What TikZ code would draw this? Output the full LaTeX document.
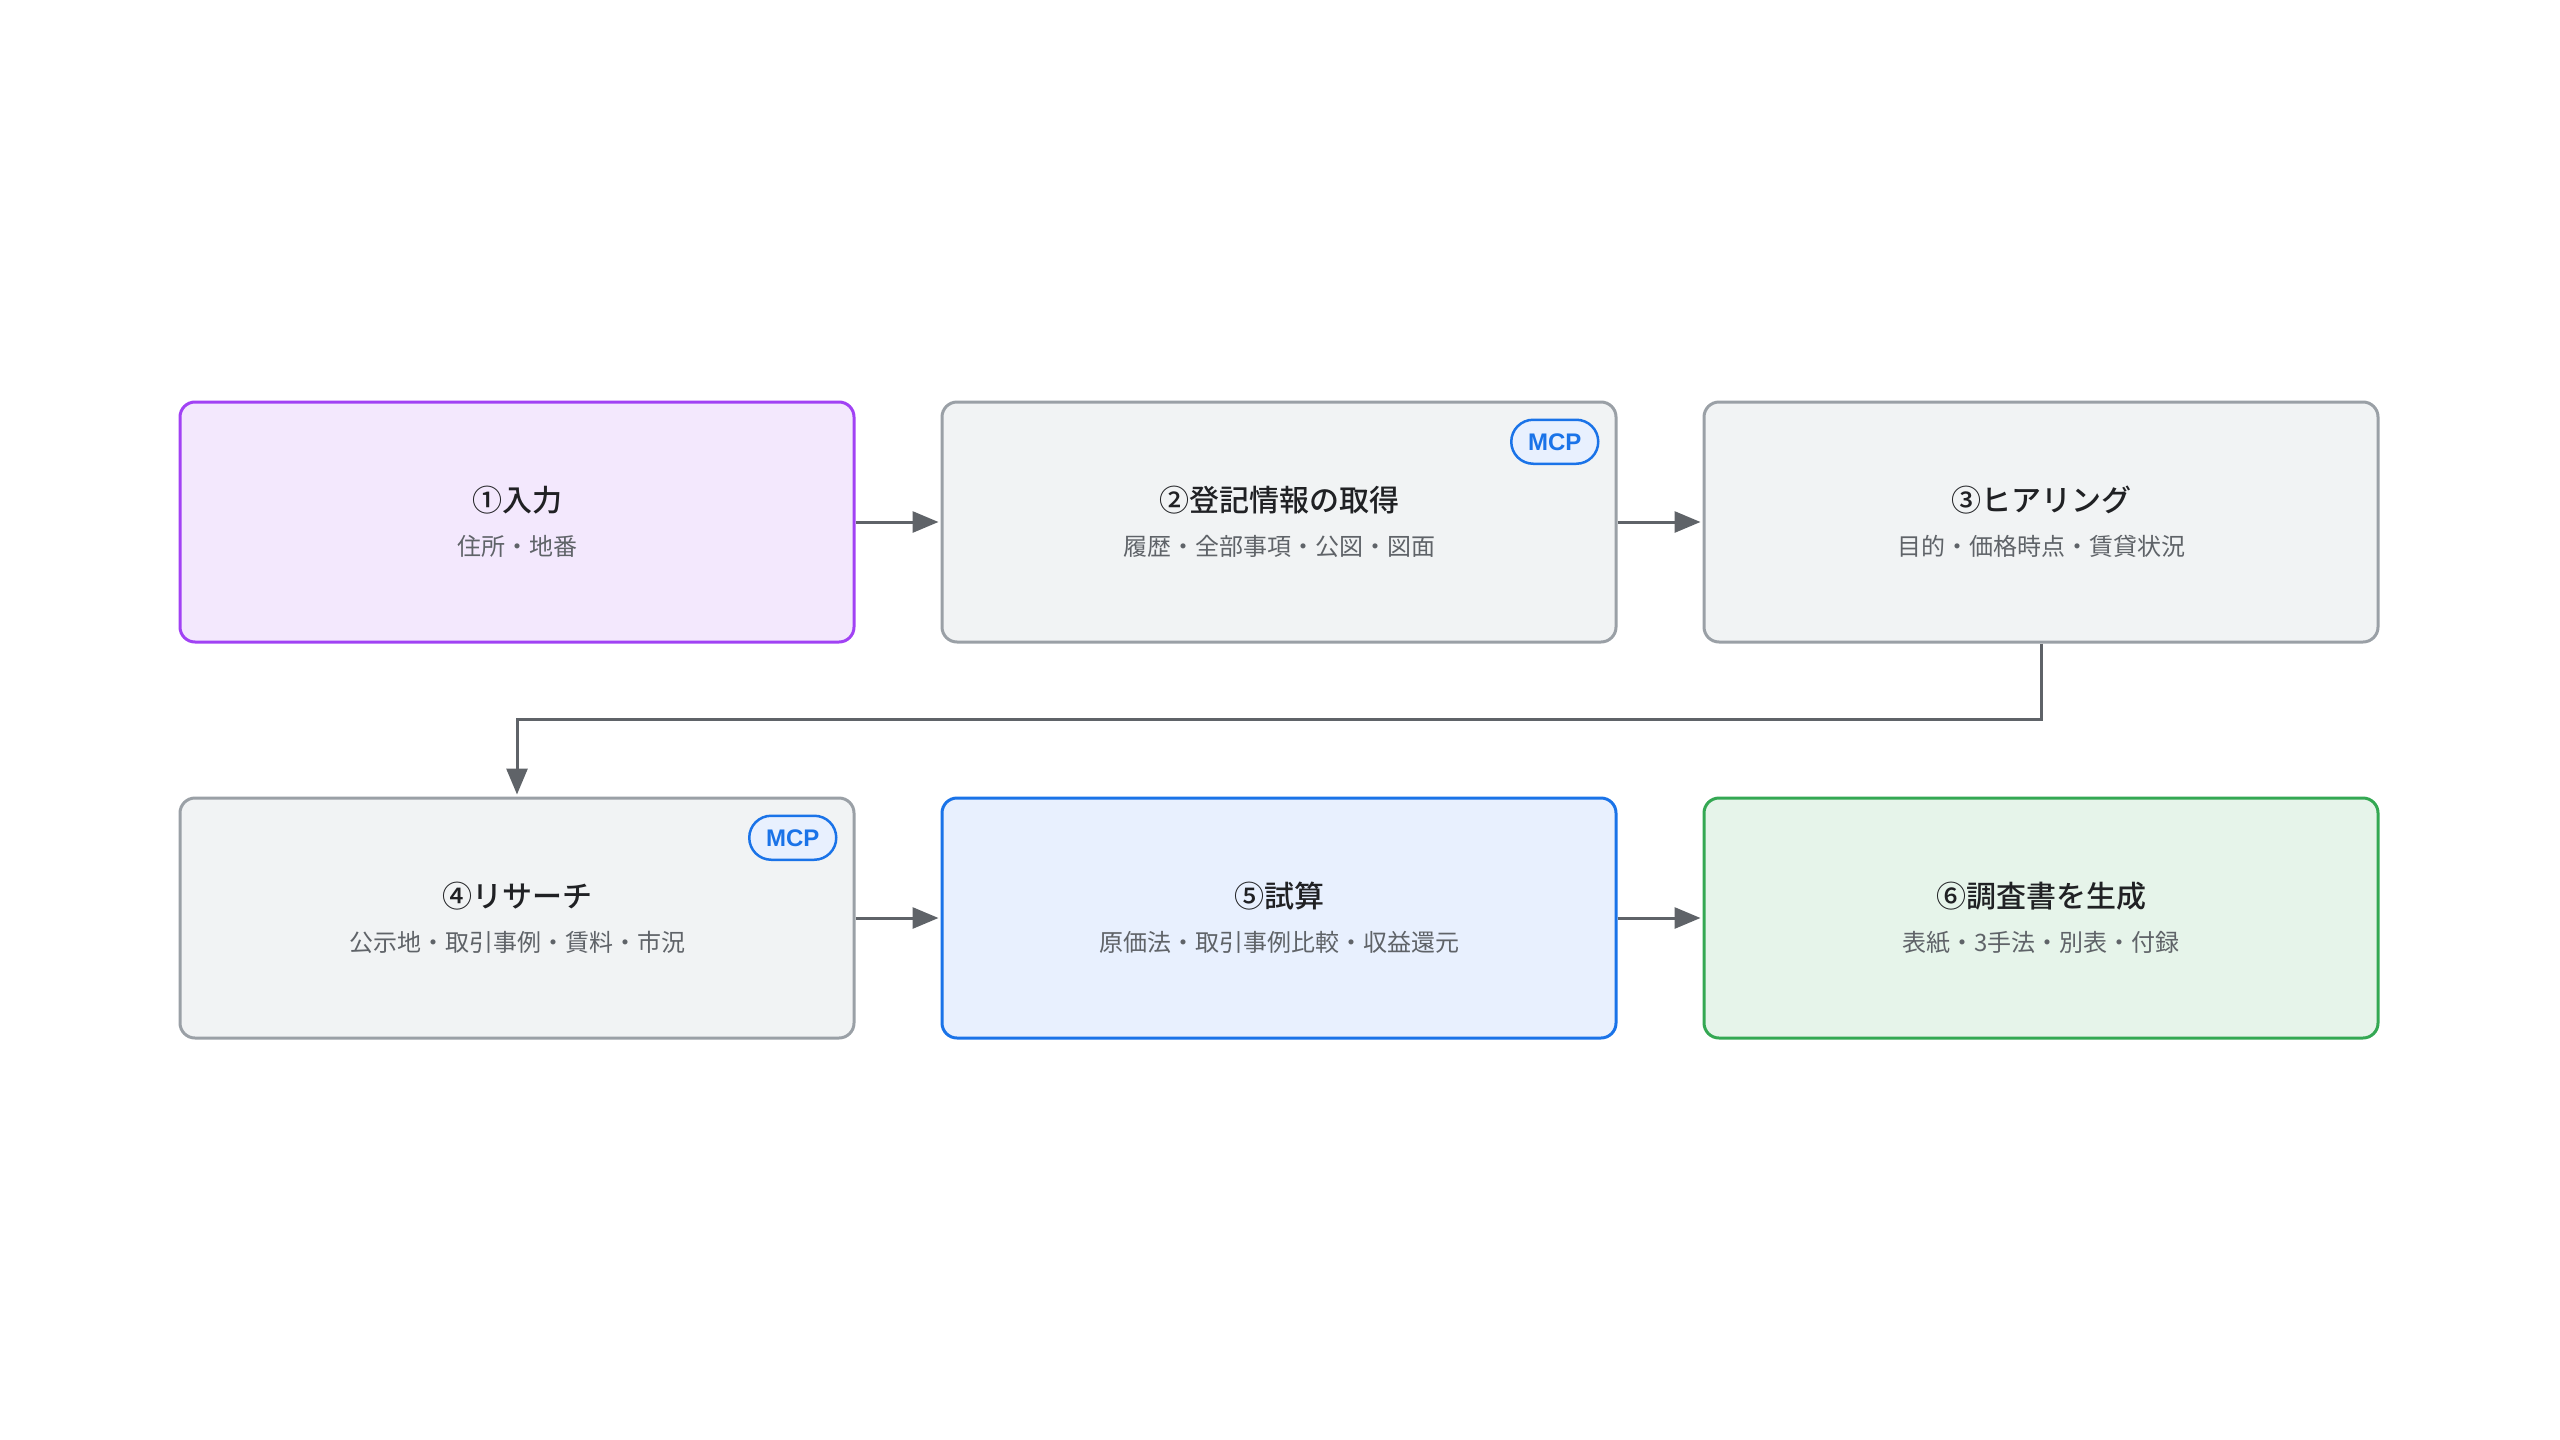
\documentclass[tikz,border=0pt]{standalone}
\usepackage{fontspec}
\setmainfont{Noto Sans CJK JP}
\newfontfamily\headfont{Noto Sans CJK JP Medium}
\newfontfamily\badgefont{Liberation Sans}
\usetikzlibrary{positioning,arrows.meta}

\definecolor{purpleline}{HTML}{A142F4}
\definecolor{purplefill}{HTML}{F3E8FD}
\definecolor{grayline}{HTML}{9AA0A6}
\definecolor{grayfill}{HTML}{F1F3F4}
\definecolor{blueline}{HTML}{1A73E8}
\definecolor{bluefill}{HTML}{E8F0FE}
\definecolor{greenline}{HTML}{34A853}
\definecolor{greenfill}{HTML}{E6F4EA}
\definecolor{arrowgray}{HTML}{5F6368}
\definecolor{titletxt}{HTML}{202124}
\definecolor{subtxt}{HTML}{5F6368}

\newcommand{\stagetext}[2]{{\headfont\fontsize{30}{44}\selectfont\color{titletxt}#1}\\#2}

\begin{document}
\begin{tikzpicture}[node distance=153pt and 85pt,
  stage/.style={draw, rounded corners=15pt, line width=3pt, minimum width=674pt, minimum height=240pt, align=center, font=\fontsize{24}{44}\selectfont, text=subtxt},
  badge/.style={draw=blueline, fill=bluefill, rounded corners=22pt, line width=2.5pt, minimum width=87pt, minimum height=44pt, inner sep=0pt, text=blueline, font=\badgefont\bfseries\fontsize{24}{24}\selectfont, anchor=north east},
  flow/.style={draw=arrowgray, line width=3pt, shorten >=2pt, -{Triangle[length=26pt,width=21pt]}}]
\useasboundingbox (0,0) rectangle (2560pt,-1440pt);
\node[stage, draw=purpleline, fill=purplefill] (inp) at (517pt,-522pt) {\stagetext{①入力}{住所・地番}};
\node[stage, draw=grayline, fill=grayfill, right=of inp] (reg) {\stagetext{②登記情報の取得}{履歴・全部事項・公図・図面}};
\node[stage, draw=grayline, fill=grayfill, right=of reg] (hear) {\stagetext{③ヒアリング}{目的・価格時点・賃貸状況}};
\node[stage, draw=grayline, fill=grayfill, below=of inp] (res) {\stagetext{④リサーチ}{公示地・取引事例・賃料・市況}};
\node[stage, draw=blueline, fill=bluefill, right=of res] (calc) {\stagetext{⑤試算}{原価法・取引事例比較・収益還元}};
\node[stage, draw=greenline, fill=greenfill, right=of calc] (rep) {\stagetext{⑥調査書を生成}{表紙・3手法・別表・付録}};
% MCP badges
\node[badge] (mcpreg) at ([shift={(-18pt,-18pt)}]reg.north east) {MCP};
\node[badge] (mcpres) at ([shift={(-18pt,-18pt)}]res.north east) {MCP};
\draw[flow] (inp) -- (reg);
\draw[flow] (reg) -- (hear);
\draw[flow] (hear.south) -- ++(0,-76pt) -| (res.north);
\draw[flow] (res) -- (calc);
\draw[flow] (calc) -- (rep);
\end{tikzpicture}
\end{document}
